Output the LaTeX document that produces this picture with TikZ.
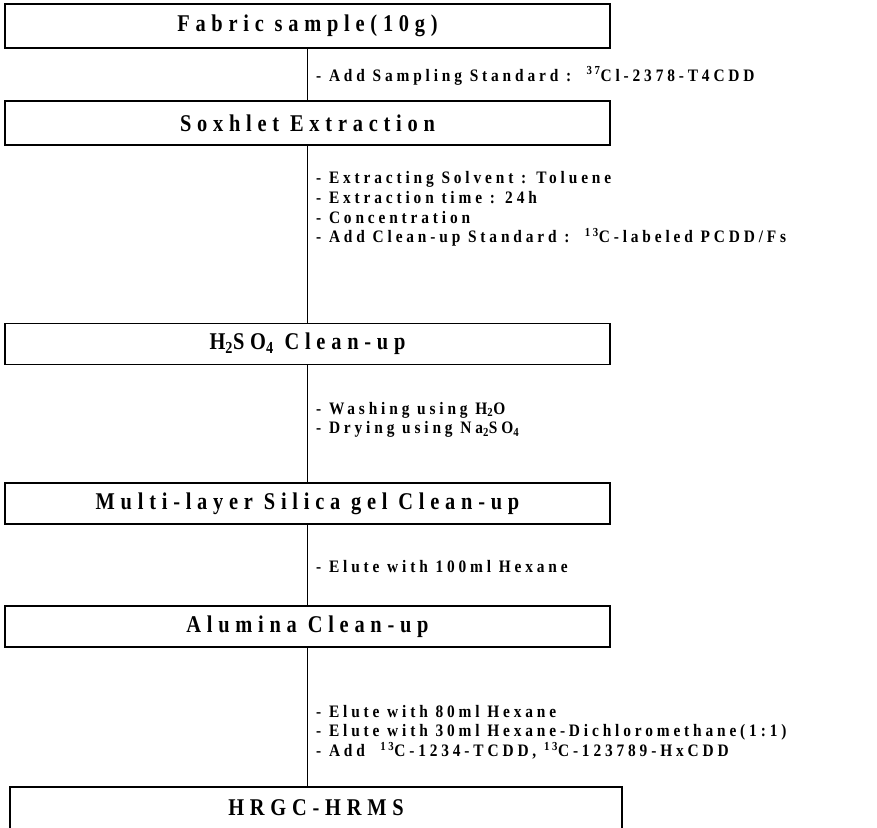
\documentclass[tikz,border=0pt]{standalone}
\usepackage{fontspec}
\newfontfamily\boxfont{Liberation Serif}[FakeStretch=0.85,LetterSpace=24]
\newfontfamily\notefont{Liberation Serif}[FakeStretch=0.88,LetterSpace=22]
\begin{document}
\begin{tikzpicture}[x=1pt,y=-1pt,
  stepbox/.style={draw, line width=1.4pt, rectangle, minimum width=605pt, inner sep=0pt,
    font=\boxfont\bfseries\fontsize{24}{27}\selectfont},
  note/.style={anchor=west, align=left, inner sep=0pt,
    font=\notefont\bfseries\fontsize{17.5}{19.6}\selectfont},
  conn/.style={line width=1.2pt}]
\useasboundingbox (0,0) rectangle (877,827);
\begin{scope}
\clip (0,0) rectangle (877,827);
\node[stepbox, minimum height=44pt] (b1) at (307.5,26) {Fabric sample(10g)};
\node[stepbox, minimum height=44pt] (b2) at (307.5,123) {Soxhlet Extraction};
\node[stepbox, minimum height=41pt] (b3) at (307.5,344) {H\textsubscript{2}SO\textsubscript{4} Clean-up};
\node[stepbox, minimum height=41pt] (b4) at (307.5,503.5) {Multi-layer Silica gel Clean-up};
\node[stepbox, minimum height=41pt] (b5) at (307.5,626.5) {Alumina Clean-up};
\node[stepbox, minimum height=42pt, minimum width=612pt] (b6) at (316,808) {HRGC-HRMS};

\draw[conn] (b1.south) -- (b2.north);
\draw[conn] (b2.south) -- (b3.north);
\draw[conn] (b3.south) -- (b4.north);
\draw[conn] (b4.south) -- (b5.north);
\draw[conn] (b5.south) -- (b5.south |- b6.north);

\node[note] (n1) at (316,76) {- Add Sampling Standard :\ \ \textsuperscript{37}Cl-2378-T4CDD};
\node[note] (n2) at (316,209) {- Extracting Solvent : Toluene\\- Extraction time : 24h\\- Concentration\\- Add Clean-up Standard :\ \ \textsuperscript{13}C-labeled PCDD/Fs};
\node[note] (n3) at (316,420) {- Washing using H\textsubscript{2}O\\- Drying using Na\textsubscript{2}SO\textsubscript{4}};
\node[note] (n4) at (316,567) {- Elute with 100ml Hexane};
\node[note] (n5) at (316,732) {- Elute with 80ml Hexane\\- Elute with 30ml Hexane-Dichloromethane(1:1)\\- Add\ \ \textsuperscript{13}C-1234-TCDD, \textsuperscript{13}C-123789-HxCDD};
\end{scope}
\end{tikzpicture}
\end{document}
